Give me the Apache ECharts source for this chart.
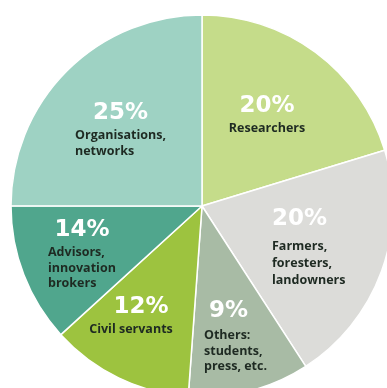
<!DOCTYPE html>
<html><head><meta charset="utf-8">
<script src="https://cdn.jsdelivr.net/npm/echarts@6/dist/echarts.min.js"></script>
<style>html,body{margin:0;padding:0;background:#fff}#c{width:387px;height:388px}</style>
</head><body><div id="c"></div>
<script>
const categories = ['Researchers', 'Farmers, foresters, landowners', 'Others: students, press, etc.', 'Civil servants', 'Advisors, innovation brokers', 'Organisations, networks'];
// printed percentage labels
const percentLabels = [20, 20, 9, 12, 14, 25];
// slice sizes as drawn in the picture (angular share, %)
const values = [20.3, 20.6, 10.3, 12.1, 11.8, 25];
const labelLines = [['Researchers'], ['Farmers,', 'foresters,', 'landowners'], ['Others:', 'students,', 'press, etc.'], ['Civil servants'], ['Advisors,', 'innovation', 'brokers'], ['Organisations,', 'networks']];
const colors = ['#c5dc8a', '#dcdcd9', '#a8bba5', '#9dc33f', '#50a68d', '#9ed2c3'];

// label layout: [x, y, blockAlign, percentAlign, percentLineHeight, percentPadLeft, textLineHeight]
const labelPos = [
  [267, 92, 'center', 'center', 28, 0, 16],
  [272, 200, 'left', 'left', 38, 0, 17],
  [204, 294, 'left', 'left', 34, 5, 15.5],
  [131, 293, 'center', 'center', 28, 20, 16],
  [48, 216, 'left', 'center', 29, 0, 15.5],
  [75, 99, 'left', 'center', 28, 0, 16]
];

const chart = echarts.init(document.getElementById('c'), null, {renderer: 'canvas'});
const data = values.map((v, i) => ({
  value: v,
  name: categories[i],
  itemStyle: {color: colors[i]},
  label: {
    formatter: '{p|' + percentLabels[i] + '%}\n' + labelLines[i].map(l => '{t|' + l + '}').join('\n'),
    rich: {
      p: {color: '#ffffff', fontSize: 23, fontWeight: 'bold', fontFamily: 'DejaVu Sans', lineHeight: labelPos[i][4], align: labelPos[i][3], padding: [0, 0, 0, labelPos[i][5]]},
      t: {color: '#1e2a22', fontSize: 12.5, fontWeight: 'bold', fontFamily: 'Open Sans', lineHeight: labelPos[i][6], align: 'left'}
    }
  }
}));
chart.setOption({
  animation: false,
  series: [{
    type: 'pie',
    center: [202, 206],
    radius: [0, 191],
    startAngle: 90,
    clockwise: true,
    data: data,
    itemStyle: {borderColor: '#ffffff', borderWidth: 1.5},
    label: {show: true, position: 'inside'},
    labelLine: {show: false},
    labelLayout: function (p) {
      const lp = labelPos[p.dataIndex];
      return {x: lp[0], y: lp[1], align: lp[2], verticalAlign: 'top'};
    }
  }]
});
</script></body></html>
